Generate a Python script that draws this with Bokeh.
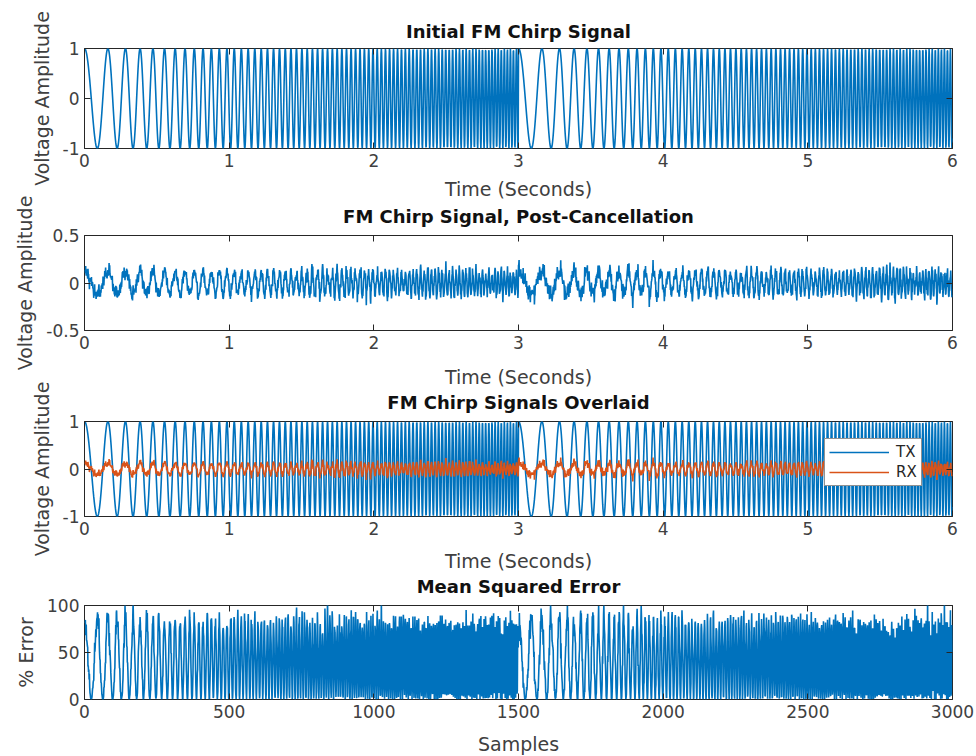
import numpy as np
from bokeh.plotting import figure
from bokeh.models import Range1d, LinearAxis, FixedTicker, Legend, LegendItem
from bokeh.layouts import column
from bokeh.embed import file_html
from bokeh.resources import INLINE

# ---------------- data ----------------
sample_rate_hz = 500          # 3000 samples over 6 s
duration_s = 6.0
sweep_period_s = 3.0          # chirp restarts at t = 3 s (sample 1500)
chirp_start_hz = 5.0          # first peaks at 0, 0.16, 0.28, 0.38, 0.47, 0.55 s
chirp_rate_hz_per_s = 14.6
rx_coupling = 0.12            # chirp leakage visible in the residual
# residual envelope per 0.5 s segment (panel 2)
rx_residual_env = [0.10, 0.08, 0.09, 0.12, 0.09, 0.08, 0.12, 0.12, 0.09, 0.10, 0.08, 0.12]
residual_freqs_hz = [23.7, 41.3, 67.9, 97.1, 131.3, 173.9, 211.7, 239.3]
residual_phases = [0.3, 1.7, 2.9, 4.1, 0.9, 5.3, 2.2, 3.6]
error_scale_pct = 110

time_ticks = [0, 1, 2, 3, 4, 5, 6]
sample_ticks = [0, 500, 1000, 1500, 2000, 2500, 3000]
unit_ticks = [-1, 0, 1]
half_ticks = [-0.5, 0, 0.5]
pct_ticks = [0, 50, 100]

titles = ["Initial FM Chirp Signal", "FM Chirp Signal, Post-Cancellation",
          "FM Chirp Signals Overlaid", "Mean Squared Error"]

# ---------------- signals ----------------
n = int(duration_s * sample_rate_hz)
t = np.arange(n) / sample_rate_hz
tau = np.mod(t, sweep_period_s)
tx = np.cos(2 * np.pi * (chirp_start_hz * tau + 0.5 * chirp_rate_hz_per_s * tau ** 2))
residual = np.zeros(n)
for f, ph in zip(residual_freqs_hz, residual_phases):
    residual += np.sin(2 * np.pi * f * t + ph)
residual /= 5.0
seg = np.minimum((t / 0.5).astype(int), len(rx_residual_env) - 1)
rx = rx_coupling * tx + np.array(rx_residual_env)[seg] * residual
err = error_scale_pct * (tx - rx) ** 2
samples = np.arange(n)

BLUE = "#0072BD"
ORANGE = "#D95319"
FONT = "DejaVu Sans"
TXT = "#404040"
LW = 1.6


def fmt(v):
    return str(int(v)) if float(v).is_integer() else str(v)


def make_fig(title, top, h, bottom, xr, yr, xticks, yticks, xlabel, ylabel,
             title_standoff, xlabel_standoff, margin_top):
    p = figure(width=976, height=top + h + bottom, frame_width=868, frame_height=h,
               min_border_left=84, min_border_right=24, min_border_top=top,
               min_border_bottom=bottom, x_range=Range1d(*xr), y_range=Range1d(*yr),
               output_backend="svg", toolbar_location=None, title=title,
               margin=(margin_top, 0, 0, 0))
    p.grid.visible = False
    p.outline_line_color = "#262626"
    p.outline_line_width = 1
    p.background_fill_color = "white"
    p.border_fill_alpha = 0
    p.title.text_font = FONT
    p.title.text_font_size = "18px"
    p.title.text_font_style = "bold"
    p.title.text_color = "#111111"
    p.title.align = "center"
    p.title.standoff = title_standoff
    p.xaxis.ticker = FixedTicker(ticks=xticks)
    p.yaxis.ticker = FixedTicker(ticks=yticks)
    p.xaxis.major_label_overrides = {v: fmt(v) for v in xticks}
    p.yaxis.major_label_overrides = {v: fmt(v) for v in yticks}
    p.xaxis.axis_label = xlabel
    p.yaxis.axis_label = ylabel
    for ax in (p.xaxis[0], p.yaxis[0]):
        ax.axis_line_color = None
        ax.major_tick_in = 6
        ax.major_tick_out = 0
        ax.major_tick_line_color = "#262626"
        ax.minor_tick_line_color = None
        ax.major_label_text_font = FONT
        ax.major_label_text_font_size = "17px"
        ax.major_label_text_color = TXT
        ax.axis_label_text_font = FONT
        ax.axis_label_text_font_size = "19px"
        ax.axis_label_text_font_style = "normal"
        ax.axis_label_text_color = TXT
        ax.major_label_standoff = 5
    p.xaxis.axis_label_standoff = xlabel_standoff
    p.yaxis.axis_label_standoff = 7
    top_ax = LinearAxis(ticker=FixedTicker(ticks=xticks),
                        major_label_overrides={v: "" for v in xticks})
    right_ax = LinearAxis(ticker=FixedTicker(ticks=yticks),
                          major_label_overrides={v: "" for v in yticks})
    for ax in (top_ax, right_ax):
        ax.axis_line_color = None
        ax.major_tick_in = 6
        ax.major_tick_out = 0
        ax.major_tick_line_color = "#262626"
        ax.minor_tick_line_color = None
        ax.major_label_standoff = 0
    p.add_layout(top_ax, "above")
    p.add_layout(right_ax, "right")
    return p


# panels overlap slightly (negative top margin) like the stacked MATLAB axes
p1 = make_fig(titles[0], 48, 100, 60, (0, 6), (-1, 1), time_ticks, unit_ticks,
              "Time (Seconds)", "Voltage Amplitude", 14, 8, 0)
p1.line(t, tx, color=BLUE, line_width=LW)

p2 = make_fig(titles[1], 50, 95, 60, (0, 6), (-0.5, 0.5), time_ticks, half_ticks,
              "Time (Seconds)", "Voltage Amplitude", 18, 14, -23)
p2.line(t, rx, color=BLUE, line_width=LW)

p3 = make_fig(titles[2], 50, 95, 60, (0, 6), (-1, 1), time_ticks, unit_ticks,
              "Time (Seconds)", "Voltage Amplitude", 18, 12, -19)
r_tx = p3.line(t, tx, color=BLUE, line_width=LW)
r_rx = p3.line(t, rx, color=ORANGE, line_width=LW)
legend = Legend(items=[LegendItem(label="TX", renderers=[r_tx]),
                       LegendItem(label="RX", renderers=[r_rx])],
                location=(740, 30))
legend.border_line_color = "#262626"
legend.border_line_width = 1
legend.background_fill_alpha = 1
legend.label_text_font = FONT
legend.label_text_font_size = "15px"
legend.label_text_color = "#262626"
legend.glyph_width = 60
legend.glyph_height = 14
legend.label_height = 14
legend.spacing = 2
legend.padding = 4
legend.margin = 0
legend.label_standoff = 7
p3.add_layout(legend)

p4 = make_fig(titles[3], 50, 94, 57, (0, 3000), (0, 100), sample_ticks, pct_ticks,
              "Samples", "% Error", 18, 12, -21)
p4.line(samples, err, color=BLUE, line_width=LW)

layout = column(p1, p2, p3, p4, spacing=0)
open("out.html", "w").write(file_html(layout, INLINE))
